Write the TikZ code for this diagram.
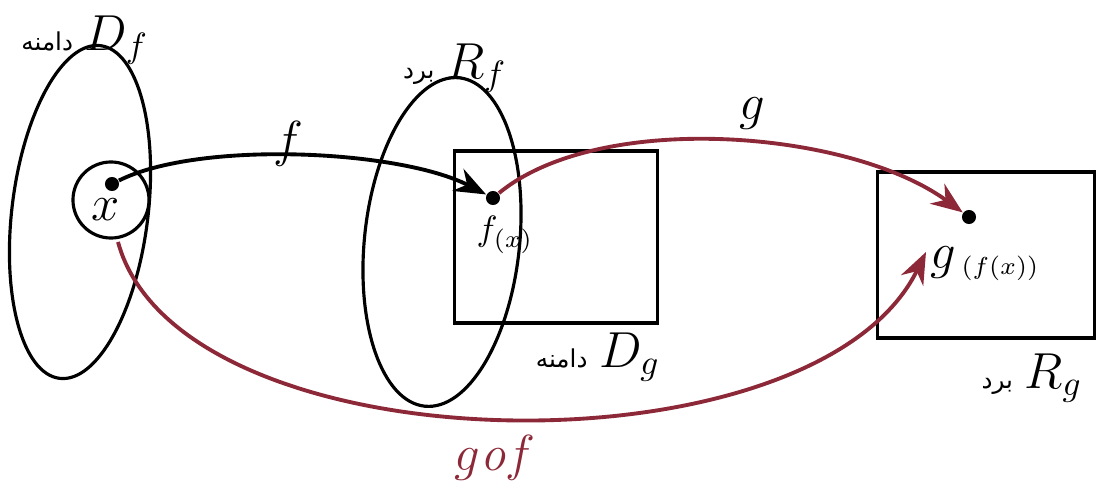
\documentclass[tikz,border=0pt]{standalone}
\usepackage{fontspec}
\newfontfamily\arabicfont[Script=Arabic]{DejaVu Sans}
\TeXXeTstate=1
\usetikzlibrary{arrows.meta,shapes.geometric}
\definecolor{darkred}{RGB}{140,40,55}
\begin{document}
\begin{tikzpicture}[x=0.01cm,y=-0.01cm,
  outline/.style={draw=black,line width=0.9pt,inner sep=0pt},
  conn/.style={line width=1.1pt,-{Stealth[length=9pt,width=7pt]}},
  dotpt/.style={circle,fill=black,inner sep=0pt,minimum size=4pt},
  lab/.style={font=\Large\itshape}]
\useasboundingbox (0,0) rectangle (1099,488);
% domain ellipse of f
\node[outline,ellipse,minimum width=1.36cm,minimum height=3.35cm,rotate=-7] (Df) at (80,212) {};
\node[outline,circle,minimum size=0.76cm] (xc) at (111,200) {};
\node[dotpt] (x) at (112,184) {};
\node[lab] (xl) at (106,210) {$x$};
% range ellipse of f
\node[outline,ellipse,minimum width=1.55cm,minimum height=3.3cm,rotate=-6] (Rf) at (442,242) {};
% squares
\node[outline,rectangle,minimum width=2.03cm,minimum height=1.72cm] (Dg) at (556,237) {};
\node[outline,rectangle,minimum width=2.17cm,minimum height=1.66cm] (Rg) at (986,255) {};
% points
\node[dotpt] (fx) at (493,198) {};
\node (fxl) at (505,235) {$f_{(x)}$};
\node[dotpt] (gfx) at (969,217) {};
\node (gfxl) at (985,264) {{\Large$g$}\,$_{(f(x))}$};
% arrows
\draw[conn] (x) .. controls (200,140) and (400,150) .. (fx);
\draw[conn,darkred] (fx) .. controls (600,110) and (850,130) .. (gfx);
\coordinate (gs) at (118,242);
\coordinate (ge) at (926,252);
\draw[conn,darkred] (gs) .. controls (180,470) and (815,480) .. (ge);
% labels
\node[lab] (fl) at (288,144) {$f$};
\node[lab] (gl) at (752,114) {$g$};
\node[lab,text=darkred] (gofl) at (495,458) {$g\mathit{o}f$};
\node (dfl) at (85,40) {{\arabicfont\scriptsize\beginR دامنه\endR}\ \Large$D_f$};
\node (rfl) at (455,68) {{\arabicfont\scriptsize\beginR برد\endR}\ \Large$R_f$};
\node (dgl) at (598,357) {{\arabicfont\scriptsize\beginR دامنه\endR}\ \Large$D_g$};
\node (rgl) at (1032,378) {{\arabicfont\scriptsize\beginR برد\endR}\ \Large$R_g$};
\end{tikzpicture}
\end{document}
